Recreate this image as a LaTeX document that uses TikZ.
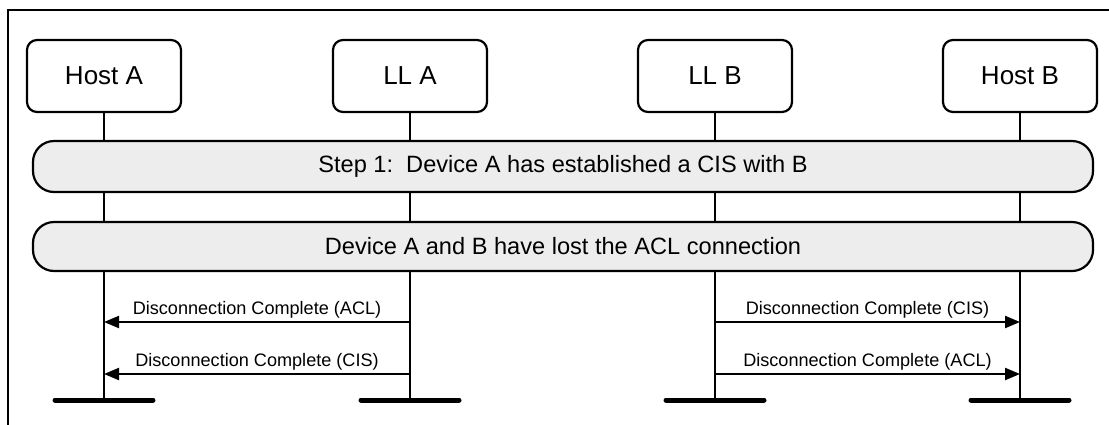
\documentclass[tikz,border=0pt]{standalone}
\usepackage{fontspec}
\setmainfont{Liberation Sans}
\usetikzlibrary{arrows.meta}
\begin{document}
\begin{tikzpicture}[x=1pt,y=-1pt,
  lw/.style={line width=2.2pt},
  actor/.style={draw,lw,fill=white,rounded corners=10pt,minimum width=154pt,minimum height=72pt,inner sep=0pt,font=\fontsize{26}{31}\selectfont},
  phase/.style={draw,lw,fill=black!7,rounded corners=21pt,minimum width=1060pt,inner sep=0pt,font=\fontsize{23.6}{28}\selectfont},
  lifeline/.style={lw},
  endbar/.style={line width=5pt,line cap=round},
  msg/.style={lw,-{Triangle[length=15pt,width=12pt]}},
  msglabel/.style={font=\fontsize{18.1}{21}\selectfont,above=1pt,inner sep=2pt}
]
\useasboundingbox (0,0) rectangle (1109,424);
% frame (left and top edges)
\draw[lw] (8,430) -- (8,10) -- (1115,10);

% lifelines
\foreach \n/\x in {ha/104, la/410, lb/715, hb/1020}{
  \coordinate (\n-top) at (\x,112);
  \coordinate (\n-bot) at (\x,400);
  \coordinate (\n-m1) at (\x,322);
  \coordinate (\n-m2) at (\x,374);
  \coordinate (\n-bl) at (\x-49,400);
  \coordinate (\n-br) at (\x+49,400);
  \draw[lifeline] (\n-top) -- (\n-bot);
  \draw[endbar] (\n-bl) -- (\n-br);
}

% actor boxes
\node[actor] (hostA) at (104,76) {Host A};
\node[actor] (llA) at (410,76) {LL A};
\node[actor] (llB) at (715,76) {LL B};
\node[actor] (hostB) at (1020,76) {Host B};

% phase bars
\node[phase,minimum height=51pt] (step1) at (563,166.5) {Step 1:\ \ Device A has established a CIS with B};
\node[phase,minimum height=49pt] (lost) at (563,246.5) {Device A and B have lost the ACL connection};

% messages
\draw[msg] (la-m1) -- node[msglabel]{Disconnection Complete (ACL)} (ha-m1);
\draw[msg] (la-m2) -- node[msglabel]{Disconnection Complete (CIS)} (ha-m2);
\draw[msg] (lb-m1) -- node[msglabel]{Disconnection Complete (CIS)} (hb-m1);
\draw[msg] (lb-m2) -- node[msglabel]{Disconnection Complete (ACL)} (hb-m2);
\end{tikzpicture}
\end{document}
